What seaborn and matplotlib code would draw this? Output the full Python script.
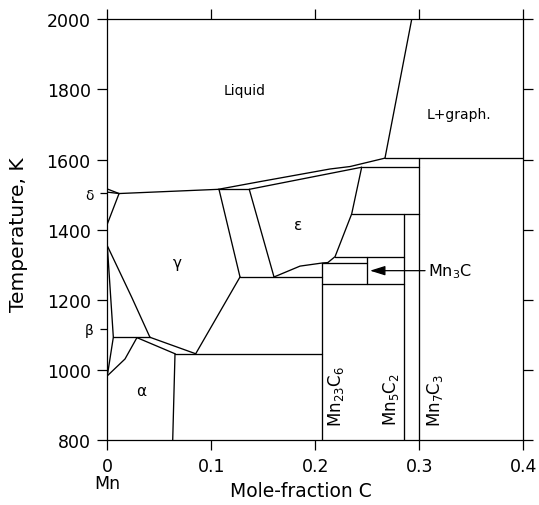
import numpy as np
import pandas as pd
import matplotlib
matplotlib.use("Agg")
import matplotlib.pyplot as plt
import seaborn as sns

# ---- phase-boundary data (x = mole fraction C, T in K) ----
delta_liq_x = [0.0, 0.0113];            delta_liq_T = [1516, 1503]
delta_sol_x = [0.0, 0.0113];            delta_sol_T = [1507, 1503]
delta_gam_x = [0.0113, 0.0];            delta_gam_T = [1503, 1416]
liq_gam_x = [0.0113, 0.1067];           liq_gam_T = [1503, 1515]
eps_liq_x = [0.1067, 0.1468, 0.2141, 0.2334, 0.267]
eps_liq_T = [1515, 1537, 1573, 1580, 1604]
eps_sol_x = [0.1365, 0.2446];           eps_sol_T = [1515, 1578]
gam_eps1_x = [0.1074, 0.1276];          gam_eps1_T = [1515, 1265]
gam_eps2_x = [0.1365, 0.1603];          gam_eps2_T = [1515, 1265]
eps_right_x = [0.2446, 0.235, 0.219, 0.212]
eps_right_T = [1578, 1445, 1323, 1306]
eps_low_x = [0.1603, 0.1853, 0.207, 0.212]
eps_low_T = [1265, 1296, 1305, 1306]
graph_liq_x = [0.267, 0.2927];          graph_liq_T = [1604, 2000]
gam_left_x = [0.0, 0.0235, 0.041];      gam_left_T = [1354, 1207, 1093]
beta_right_x = [0.0, 0.0058, 0.0];      beta_right_T = [1354, 1093, 983]
alpha_top_x = [0.0, 0.017, 0.0285];     alpha_top_T = [983, 1031, 1092]
slim_up_x = [0.041, 0.085];             slim_up_T = [1093, 1046]
slim_low_x = [0.0285, 0.0651];          slim_low_T = [1092, 1046]
alpha_right_x = [0.0651, 0.0629];       alpha_right_T = [1046, 800]
gam_right_x = [0.1276, 0.085];          gam_right_T = [1265, 1046]

# invariant (horizontal) lines
iso_T = [1093, 1046, 1265, 1515, 1305, 1323, 1245, 1445, 1578, 1604]
iso_x0 = [0.0058, 0.0651, 0.1276, 0.1067, 0.2069, 0.219, 0.2069, 0.235, 0.2446, 0.267]
iso_x1 = [0.041, 0.2069, 0.2069, 0.1365, 0.25, 0.2857, 0.2857, 0.3, 0.3, 0.4]

# stoichiometric compounds (vertical lines)
comp_names = ["Mn$_{23}$C$_{6}$", "Mn$_{3}$C", "Mn$_{5}$C$_{2}$", "Mn$_{7}$C$_{3}$"]
comp_x = [6 / 29, 0.25, 2 / 7, 0.3]
comp_Tlo = [800, 1245, 800, 800]
comp_Thi = [1305, 1323, 1445, 1604]

x_ticks = [0, 0.1, 0.2, 0.3, 0.4]
x_ticklabels = ["0", "0.1", "0.2", "0.3", "0.4"]
y_ticks = [800, 1000, 1200, 1400, 1600, 1800, 2000]
pure_T = [1117, 1504]
pure_labels = ["β", "δ"]

# ---- build long table of segments ----
curves = [
    (delta_liq_x, delta_liq_T), (delta_sol_x, delta_sol_T), (delta_gam_x, delta_gam_T),
    (liq_gam_x, liq_gam_T), (eps_liq_x, eps_liq_T), (eps_sol_x, eps_sol_T),
    (gam_eps1_x, gam_eps1_T), (gam_eps2_x, gam_eps2_T), (eps_right_x, eps_right_T),
    (eps_low_x, eps_low_T), (graph_liq_x, graph_liq_T), (gam_left_x, gam_left_T),
    (beta_right_x, beta_right_T), (alpha_top_x, alpha_top_T), (slim_up_x, slim_up_T),
    (slim_low_x, slim_low_T), (alpha_right_x, alpha_right_T), (gam_right_x, gam_right_T),
]
for T, a, b in zip(iso_T, iso_x0, iso_x1):
    curves.append(([a, b], [T, T]))
for x, lo, hi in zip(comp_x, comp_Tlo, comp_Thi):
    curves.append(([x, x], [lo, hi]))

rows = []
for i, (xs, ts) in enumerate(curves):
    for j, (xv, tv) in enumerate(zip(xs, ts)):
        rows.append({"seg": i, "order": j, "x": xv, "T": tv})
df = pd.DataFrame(rows)

sns.set_style("ticks")
plt.rcParams["font.family"] = ["DejaVu Sans"]
plt.rcParams["axes.linewidth"] = 0.9
plt.rcParams["text.color"] = "black"
plt.rcParams["axes.labelcolor"] = "black"
plt.rcParams["xtick.color"] = "black"
plt.rcParams["ytick.color"] = "black"

fig = plt.figure(figsize=(5.39, 5.06), dpi=100)
ax = fig.add_axes([107.3 / 539, 1 - 441 / 506, 416 / 539, 420.7 / 506])

sns.lineplot(data=df, x="x", y="T", units="seg", estimator=None, sort=False,
             color="black", lw=0.95, ax=ax, legend=False)

ax.set_xlim(0, 0.4)
ax.set_ylim(800, 2000)
ax.set_xticks(x_ticks, x_ticklabels)
ax.set_yticks(y_ticks)
ax.set_yticks(pure_T, pure_labels, minor=True)
ax.tick_params(which="major", direction="out", length=7, width=0.9,
               top=True, right=True, labelsize=12.5, pad=5, colors="black")
ax.tick_params(which="minor", axis="y", direction="out", length=5, width=0.9,
               right=False, labelsize=10, pad=5, colors="black")
for s in ax.spines.values():
    s.set_visible(True)
    s.set_color("black")

ax.set_xlabel("Mole-fraction C", fontsize=13.5, color="black")
ax.xaxis.set_label_coords(0.4656, -0.097)
ax.set_ylabel("Temperature, K", fontsize=14.5, color="black")
ax.yaxis.set_label_coords(-0.19, 0.49)

ax.text(0.0, -0.1022, "Mn", transform=ax.get_xaxis_transform(),
        ha="center", va="center", fontsize=12.5, color="black")

# region labels
ax.text(0.1325, 1797, "Liquid", ha="center", va="center", fontsize=10, color="black")
ax.text(0.338, 1730, "L+graph.", ha="center", va="center", fontsize=10, color="black")
ax.text(0.1837, 1416, "ε", ha="center", va="center", fontsize=11, color="black")
ax.text(0.0673, 1307, "γ", ha="center", va="center", fontsize=11, color="black")
ax.text(0.033, 941, "α", ha="center", va="center", fontsize=11, color="black")

# compound labels
ax.text(0.2199, 926, comp_names[0], rotation=90, ha="center", va="center", fontsize=12, color="black")
ax.text(0.2725, 917, comp_names[2], rotation=90, ha="center", va="center", fontsize=12, color="black")
ax.text(0.315, 917, comp_names[3], rotation=90, ha="center", va="center", fontsize=12, color="black")
ax.annotate(comp_names[1], xy=(0.2526, 1283), xytext=(0.3087, 1283),
            ha="left", va="center", fontsize=11.5, color="black",
            arrowprops=dict(arrowstyle="-|>,head_length=0.8,head_width=0.25",
                            color="black", lw=0.9, shrinkA=0, shrinkB=0))

fig.savefig("out.png", dpi=100)
